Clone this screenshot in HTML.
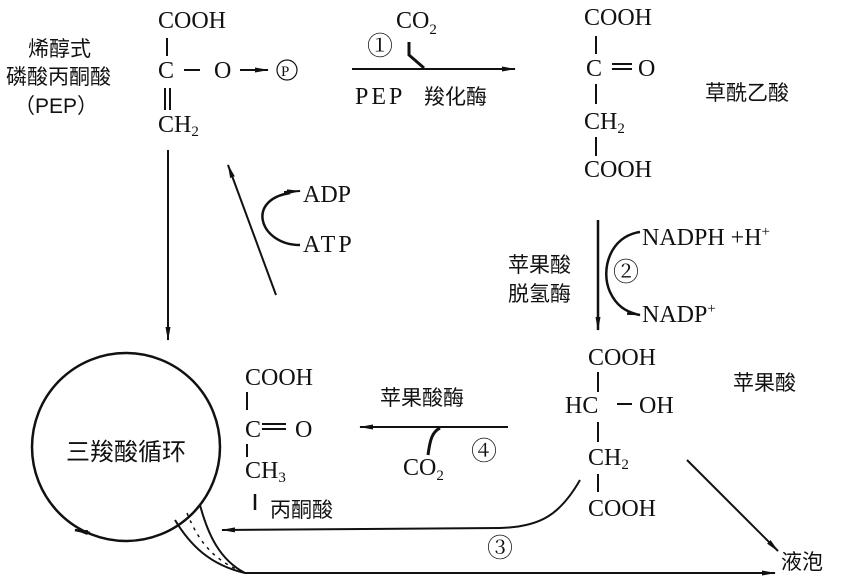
<!DOCTYPE html>
<html><head><meta charset="utf-8"><style>
body{margin:0;background:#fff}
svg{display:block}
.f{font-family:"Liberation Serif","Noto Serif CJK SC",serif;font-size:24px;fill:#111}
.c{font-family:"Liberation Sans","Noto Sans CJK SC",sans-serif;font-size:21px;fill:#111}
.n{font-size:26px}
.s{font-size:15px}
</style></head><body>
<svg width="845" height="579" viewBox="0 0 845 579" xmlns="http://www.w3.org/2000/svg">
<defs><marker id="a" markerWidth="14" markerHeight="8" refX="13" refY="4" orient="auto" markerUnits="userSpaceOnUse"><path d="M0,1.5 L14,4 L0,6.5 Z" fill="#111"/></marker></defs>
<g stroke="#111" stroke-width="2" fill="none">
<line x1="167" y1="38" x2="167" y2="56"/>
<line x1="184" y1="70" x2="200" y2="70"/>
<line x1="240" y1="70" x2="268" y2="70" marker-end="url(#a)"/>
<circle cx="287" cy="70" r="10" stroke-width="1.2"/>
<line x1="165" y1="88" x2="165" y2="110"/><line x1="170" y1="88" x2="170" y2="110"/>
<line x1="352" y1="69" x2="515" y2="69" marker-end="url(#a)"/>
<path d="M409,42 L409,55 L424,68" stroke-width="3"/>
<line x1="596" y1="36" x2="596" y2="54"/>
<line x1="612" y1="64" x2="632" y2="64"/><line x1="612" y1="69" x2="632" y2="69"/>
<line x1="596" y1="84" x2="596" y2="104"/>
<line x1="596" y1="137" x2="596" y2="156"/>
<line x1="168" y1="150" x2="168" y2="340" marker-end="url(#a)"/>
<line x1="276" y1="295" x2="228" y2="165" marker-end="url(#a)"/>
<path d="M300,245 C260,245 245,200 290,193" stroke-width="2.5"/>
<path d="M284,192 L300,191" marker-end="url(#a)"/>
<line x1="598" y1="220" x2="598" y2="330" marker-end="url(#a)" stroke-width="2.5"/>
<path d="M640,232 C610,236 600,270 610,292 C616,305 625,312 640,315" marker-end="url(#a)" stroke-width="2.5"/>
<line x1="598" y1="372" x2="598" y2="392"/>
<line x1="617" y1="404" x2="632" y2="404"/>
<line x1="598" y1="422" x2="598" y2="442"/>
<line x1="598" y1="474" x2="598" y2="492"/>
<circle cx="126" cy="447" r="94" stroke-width="2.5"/>
<path d="M90,533 L75,530" marker-end="url(#a)" stroke-width="2.5"/>
<path d="M175,520 C190,545 210,565 245,573"/>
<path d="M200,505 C208,535 220,560 245,573"/>
<path d="M187,513 C198,540 212,560 245,573" stroke-dasharray="3,5" stroke-width="1.5"/>
<line x1="245" y1="573" x2="775" y2="573" marker-end="url(#a)"/>
<line x1="247" y1="392" x2="247" y2="410"/>
<line x1="262" y1="424" x2="286" y2="424"/><line x1="262" y1="429" x2="286" y2="429"/>
<line x1="247" y1="444" x2="247" y2="457"/>
<line x1="255" y1="510" x2="255" y2="494" stroke-width="2.5"/>
<line x1="508" y1="427" x2="360" y2="427" marker-end="url(#a)"/>
<path d="M440,428 C432,432 430,440 428,455" stroke-width="3"/>
<path d="M580,480 C560,515 540,527 500,528 L222,530" marker-end="url(#a)"/>
<line x1="687" y1="460" x2="778" y2="551" marker-end="url(#a)"/>
</g>
<text class="c" x="28" y="56">烯醇式</text>
<text class="c" x="6" y="84">磷酸丙酮酸</text>
<text class="c" x="14" y="113">（PEP）</text>
<text class="f" x="158" y="28">COOH</text>
<text class="f" x="158" y="78">C</text>
<text class="f" x="214" y="78">O</text>
<text class="f" x="281" y="76" style="font-size:15px">P</text>
<text class="f" x="158" y="132">CH<tspan class="s" dy="4">2</tspan></text>
<text class="f n" x="367" y="55">①</text>
<text class="f" x="396" y="28">CO<tspan class="s" dy="6">2</tspan></text>
<text class="f" x="355" y="104" style="letter-spacing:3px">PEP</text>
<text class="c" x="424" y="104">羧化酶</text>
<text class="f" x="584" y="25">COOH</text>
<text class="f" x="586" y="76">C</text>
<text class="f" x="638" y="76">O</text>
<text class="f" x="584" y="129">CH<tspan class="s" dy="4">2</tspan></text>
<text class="f" x="584" y="177">COOH</text>
<text class="c" x="705" y="100">草酰乙酸</text>
<text class="f" x="303" y="202">ADP</text>
<text class="f" x="303" y="252" style="letter-spacing:3px">ATP</text>
<text class="f" x="642" y="245">NADPH +H<tspan class="s" dy="-9">+</tspan></text>
<text class="f" x="642" y="322">NADP<tspan class="s" dy="-9">+</tspan></text>
<text class="c" x="508" y="272">苹果酸</text>
<text class="c" x="508" y="301">脱氢酶</text>
<text class="f n" x="613" y="281">②</text>
<text class="f" x="588" y="365">COOH</text>
<text class="f" x="565" y="413">HC</text>
<text class="f" x="639" y="413">OH</text>
<text class="f" x="588" y="465">CH<tspan class="s" dy="4">2</tspan></text>
<text class="f" x="588" y="516">COOH</text>
<text class="c" x="733" y="390">苹果酸</text>
<text class="c" x="66" y="460" style="font-size:24px">三羧酸循环</text>
<text class="f" x="245" y="385">COOH</text>
<text class="f" x="245" y="437">C</text>
<text class="f" x="295" y="437">O</text>
<text class="f" x="245" y="478">CH<tspan class="s" dy="4">3</tspan></text>
<text class="c" x="270" y="517">丙酮酸</text>
<text class="c" x="380" y="405">苹果酸酶</text>
<text class="f" x="403" y="475">CO<tspan class="s" dy="5">2</tspan></text>
<text class="f n" x="471" y="460">④</text>
<text class="f n" x="487" y="557">③</text>
<text class="c" x="781" y="569">液泡</text>
</svg>
</body></html>
